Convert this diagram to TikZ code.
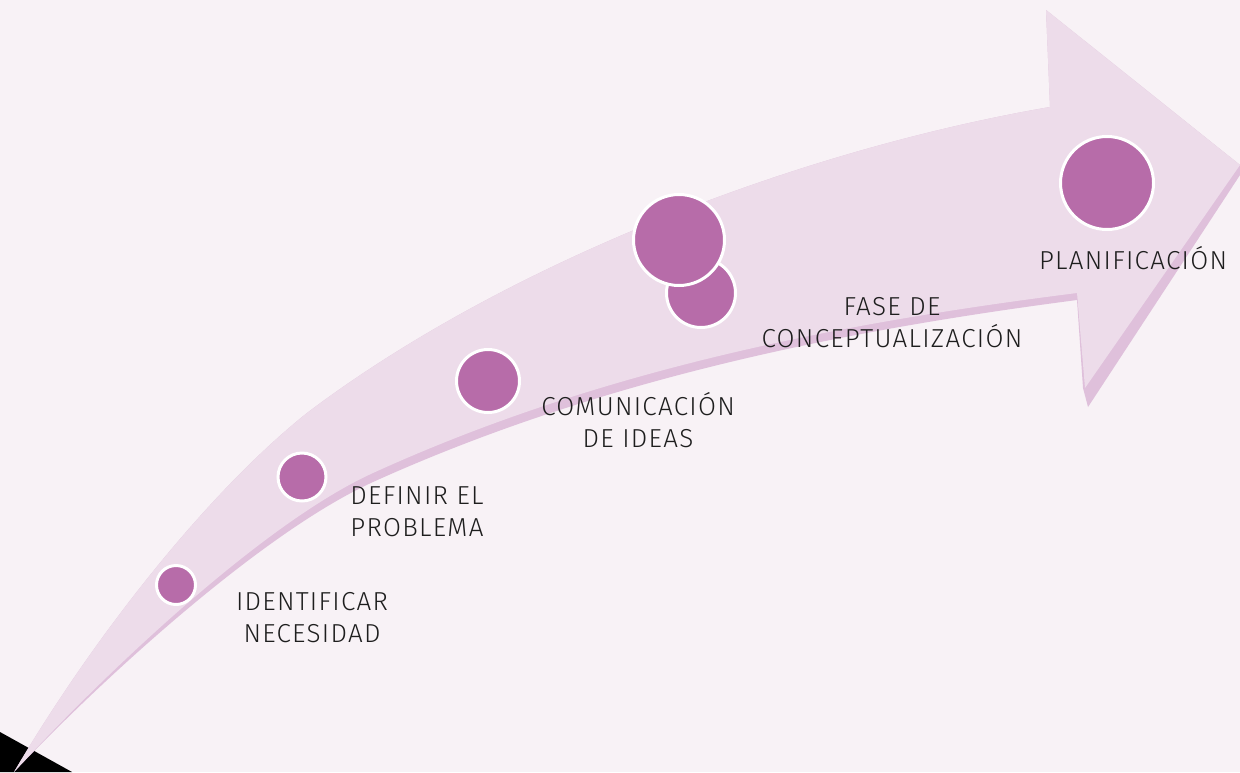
\documentclass[tikz,border=0pt]{standalone}
\usepackage{fontspec}
\setmainfont{Fira Sans}[UprightFont={* Light}, LetterSpace=5]
\definecolor{bg}{HTML}{F8F2F6}
\definecolor{face}{HTML}{EDDCEA}
\definecolor{shadowc}{HTML}{DFC0DB}
\definecolor{dotc}{HTML}{B76CA9}
\definecolor{txt}{HTML}{1E1E1E}
\begin{document}
\begin{tikzpicture}[x=0.5pt,y=-0.5pt,
  dot/.style={circle, fill=dotc, draw=white, line width=1.5pt, inner sep=0pt},
  lbl/.style={align=center, text=txt, inner sep=0pt, font=\fontsize{13}{16}\selectfont}]
\fill[bg] (0,0) rectangle (1240,772);
\useasboundingbox (0,0) rectangle (1240,772);
\fill[black] (0,732) -- (72,772) -- (0,772) -- cycle;
% shadow of the arrow
\fill[shadowc] (14,772) .. controls (94,636) and (207,493) .. (307,413)
  .. controls (507,262) and (800,150) .. (1050,107)
  -- (1046,10) -- (1240,165) -- (1240,175) -- (1088,407) -- (1083,388) -- (1077,300)
  .. controls (847,330) and (603,378) .. (373,482)
  .. controls (263,532) and (104,677) .. (14,772) -- cycle;
% face of the arrow
\fill[face] (14,772) .. controls (94,636) and (207,493) .. (307,413)
  .. controls (507,262) and (800,150) .. (1050,107)
  -- (1046,10) -- (1240,165) -- (1085,388) -- (1077,293)
  .. controls (847,322) and (603,368) .. (373,473)
  .. controls (263,523) and (104,674) .. (14,772) -- cycle;
% circles
\node[dot, minimum size=19.5pt] (c1) at (176,585) {};
\node[dot, minimum size=24pt] (c2) at (302,477) {};
\node[dot, minimum size=31.5pt] (c3) at (488,381) {};
\node[dot, minimum size=34.5pt] (c4) at (701,293) {};
\node[dot, minimum size=45.5pt] (c5) at (679,240) {};
\node[dot, minimum size=46.5pt] (c6) at (1107,183) {};
% labels
\node[lbl] (t1) at (312,618) {IDENTIFICAR\\NECESIDAD};
\node[lbl] (t2) at (417,512) {DEFINIR EL\\PROBLEMA};
\node[lbl] (t3) at (638,420) {COMUNICACIÓN\\DE IDEAS};
\node[lbl] (t4) at (892,323) {FASE DE\\CONCEPTUALIZACIÓN};
\node[lbl] (t5) at (1133,258) {PLANIFICACIÓN};
\end{tikzpicture}
\end{document}
